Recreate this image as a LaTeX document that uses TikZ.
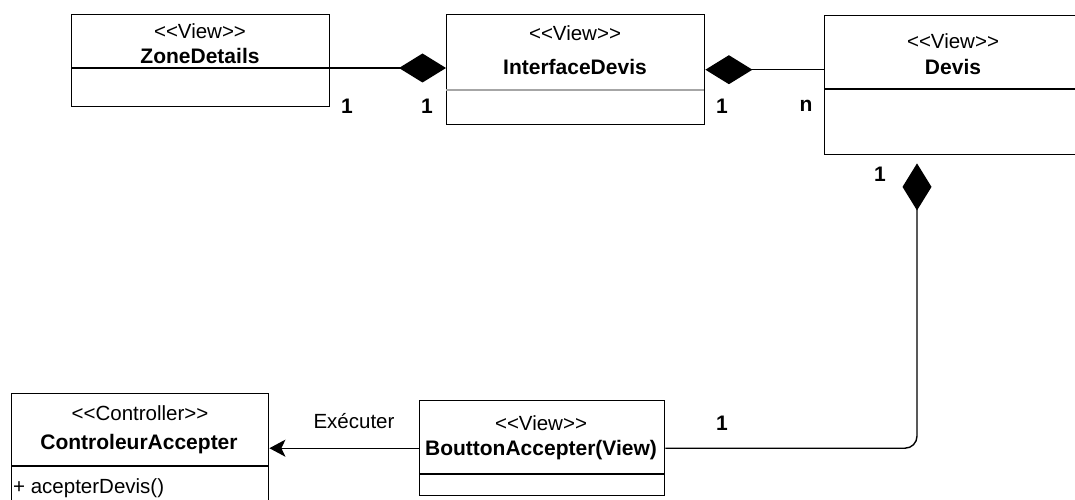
\documentclass[tikz,border=0pt]{standalone}
\usepackage{fontspec}
\setmainfont{Liberation Sans}
\usetikzlibrary{arrows.meta,calc}
\newcommand\stereo[1]{<\kern0pt<#1>\kern0pt>}
\tikzset{
  classbox/.style={draw, line width=1.4pt, inner sep=0pt, anchor=north west},
  divider/.style={line width=1.4pt},
  txt/.style={inner sep=0pt, font=\fontsize{20.5}{24}\selectfont},
  btxt/.style={inner sep=0pt, font=\fontsize{21}{24}\selectfont\bfseries},
  conn/.style={line width=1.4pt},
  comp/.style={conn, {Diamond[length=47pt,width=29pt]}-},
  exec/.style={conn, -{Stealth[length=16pt,width=17pt,inset=4pt]}}
}
\begin{document}
\begin{tikzpicture}[x=1pt,y=-1pt]
\useasboundingbox (0,0) rectangle (1075,500);
% ZoneDetails
\node[classbox, minimum width=258pt, minimum height=92pt] (zd) at (71,14) {};
\draw[divider] (71,68) -- (329,68);
\node[txt] (zds) at (200,31) {\stereo{View}};
\node[btxt] (zdn) at (200,56) {ZoneDetails};
% InterfaceDevis
\node[classbox, minimum width=258pt, minimum height=110pt] (id) at (446,14) {};
\draw[line width=1.2pt, gray!70] (446,90) -- (704,90);
\node[txt] (ids) at (575,33) {\stereo{View}};
\node[btxt] (idn) at (575,67) {InterfaceDevis};
% Devis
\node[classbox, minimum width=258pt, minimum height=139pt] (dv) at (824,15) {};
\draw[divider] (824,89) -- (1082,89);
\node[txt] (dvs) at (953,41) {\stereo{View}};
\node[btxt] (dvn) at (953,67) {Devis};
% ControleurAccepter
\node[classbox, minimum width=257pt, minimum height=117pt] (ct) at (11,393) {};
\draw[divider] (11,466) -- (268,466);
\node[txt] (cts) at (140,413) {\stereo{Controller}};
\node[btxt] (ctn) at (139,444) {ControleurAccepter};
\node[txt, anchor=west] (ctm) at (13,488) {+ acepterDevis()};
% BouttonAccepter
\node[classbox, minimum width=245pt, minimum height=95pt] (bt) at (419,400) {};
\draw[divider] (419,474) -- (664,474);
\node[txt] (bts) at (541,423) {\stereo{View}};
\node[btxt] (btn) at (541,450) {BouttonAccepter(View)};
% connectors
\coordinate (zdr) at ($(zd.north east)+(0,54)$);
\coordinate (dvd) at ($(dv.south west)+(93,8)$);
\draw[comp] (id.west |- zdr) -- (zdr);
\draw[comp] (id.east) -- (dv.west |- id.east);
\draw[comp, rounded corners=12pt] (dvd) -- (dvd |- bt.east) -- (bt.east);
\draw[exec] (bt.west) -- (ct.east |- bt.west);
% labels
\node[btxt] (m1) at (347,106) {1};
\node[btxt] (m2) at (427,106) {1};
\node[btxt] (m3) at (722,106) {1};
\node[btxt] (m4) at (806,106) {n};
\node[btxt] (m5) at (880,174) {1};
\node[btxt] (m6) at (722,423) {1};
\node[txt] (lx) at (354,421) {Exécuter};
\end{tikzpicture}
\end{document}
